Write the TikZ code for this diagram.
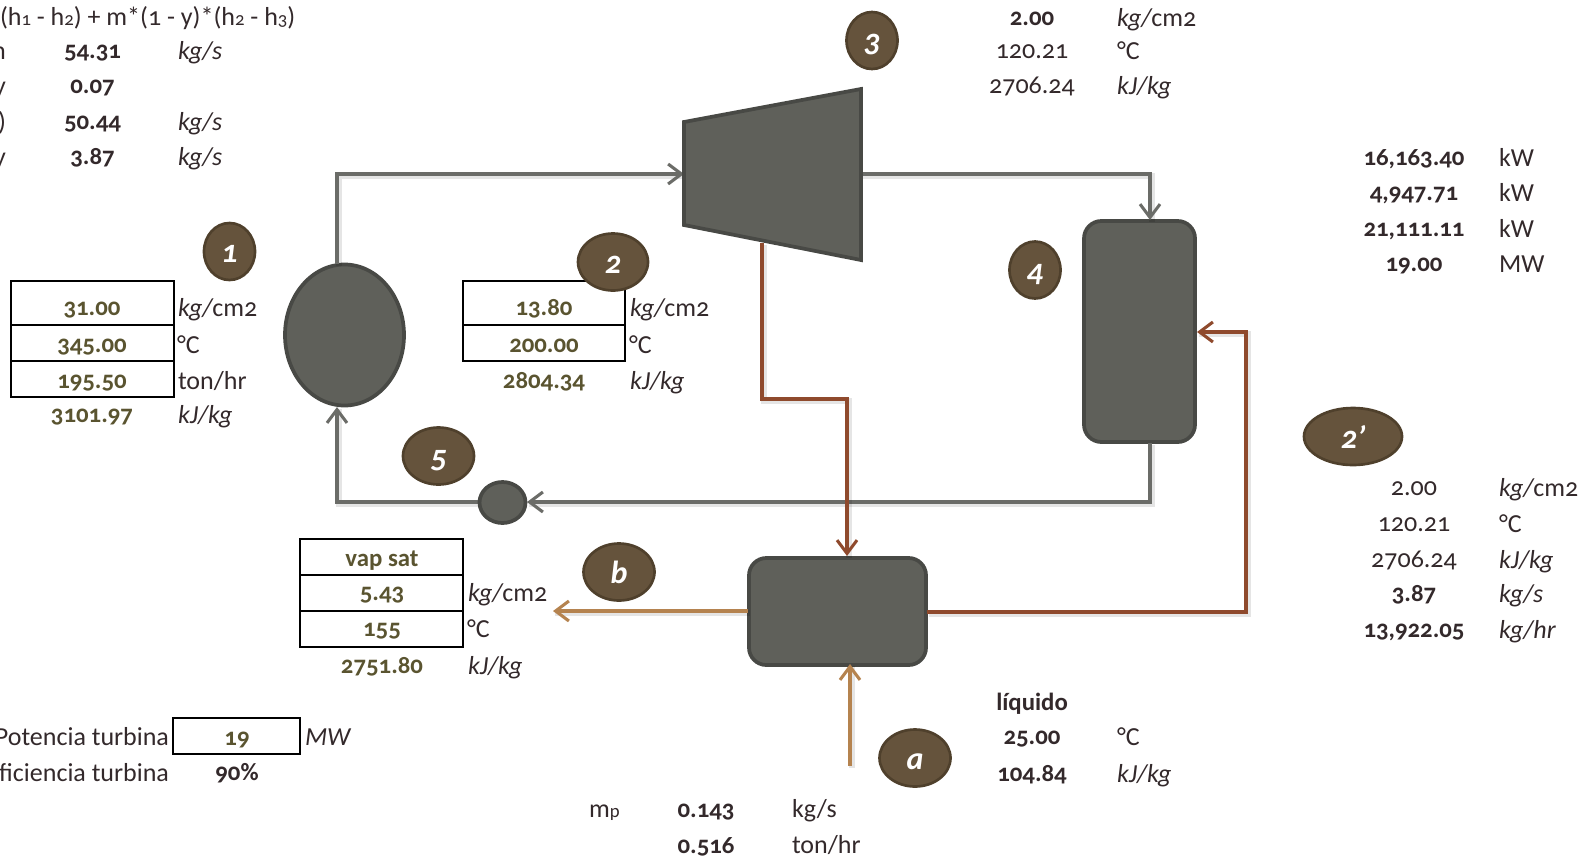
\documentclass[tikz,border=0pt]{standalone}
\usepackage{fontspec}
\setmainfont[Numbers=OldStyle]{Carlito}
\usetikzlibrary{arrows.meta,shapes.geometric,calc}
\definecolor{eqfill}{HTML}{5F605A}
\definecolor{eqline}{HTML}{484945}
\definecolor{pipe}{HTML}{6B6C68}
\definecolor{redpipe}{HTML}{8F4A2D}
\definecolor{tanpipe}{HTML}{B5834F}
\definecolor{badgefill}{HTML}{65533C}
\definecolor{badgeline}{HTML}{4F402C}
\definecolor{olive}{HTML}{5A5430}
\definecolor{ink}{HTML}{33292B}
\newcounter{tx}
\newcommand{\TT}[4][]{\stepcounter{tx}\node[txt,#1] (tx\arabic{tx}) at (#2,#3) {#4};}
\newcommand{\sbs}[1]{\raisebox{-0.03em}{\scalebox{0.72}{#1}}}
\newcommand{\kgcm}{{\itshape kg/}cm2}
\tikzset{
  x=0.75pt,y=-0.75pt,
  txt/.style={anchor=base,inner sep=0pt,outer sep=0pt,font=\fontsize{19.5}{22}\selectfont,text=ink},
  lft/.style={anchor=base west},
  rgt/.style={anchor=base east},
  bd/.style={font=\fontsize{18.6}{22}\selectfont\bfseries},
  ol/.style={font=\fontsize{18.6}{22}\selectfont\bfseries,text=olive},
  equip/.style={draw=eqline,fill=eqfill,line width=2.8pt},
  tank/.style={equip,rectangle,rounded corners=13pt,inner sep=0pt},
  conn/.style={line width=2.7pt,line join=miter,-{Straight Barb[length=10pt,width=15pt,line width=2.3pt]},
     preaction={draw=black,draw opacity=0.10,line width=4pt,transform canvas={shift={(1.5pt,-1.5pt)}},-}},
  badge/.style={ellipse,draw=badgeline,fill=badgefill,line width=2pt,inner sep=0pt,text=white,
     font=\fontsize{24}{26}\selectfont\bfseries\itshape},
  lowtext/.style={text height=20pt,text depth=3pt},
  cell/.style={draw=black,line width=1.5pt},
}
\begin{document}
\begin{tikzpicture}
\useasboundingbox (0,0) rectangle (1587,861);
\clip (0,0) rectangle (1587,861);
% equipment
\node[ellipse,equip,minimum width=119pt*0.75,minimum height=141pt*0.75,inner sep=0pt] (boiler) at (344.5,335) {};
\node[tank,minimum width=111pt*0.75,minimum height=221pt*0.75] (cond) at (1139.5,331.5) {};
\node[tank,minimum width=177pt*0.75,minimum height=107pt*0.75] (dea) at (837.5,611.5) {};
% turbine
\coordinate (tA) at (684,122);
\coordinate (tB) at (861,89);
\coordinate (tC) at (861,260);
\coordinate (tD) at (684,225);
% waypoints
\coordinate (bt) at (337,174);
\coordinate (tin) at (684,174);
\coordinate (tout) at (861,174);
\coordinate (ct) at (1150,174);
\coordinate (cin) at (1150,220);
\coordinate (cb) at (1150,443);
\coordinate (cr) at (1150,502);
\coordinate (pumpR) at (527,502);
\coordinate (pumpL) at (478,502);
\coordinate (bl) at (337,502);
\coordinate (bin) at (337,407);
\coordinate (bout) at (337,264);
\coordinate (ex) at (762,243);
\coordinate (e1) at (762,399);
\coordinate (e2) at (847,399);
\coordinate (e3) at (847,556);
\coordinate (d1) at (927,612);
\coordinate (d2) at (1246,612);
\coordinate (d3) at (1246,332);
\coordinate (c3) at (1197,332);
\coordinate (bo1) at (748,611);
\coordinate (bo2) at (553,611);
\coordinate (w1) at (850,766);
\coordinate (w2) at (850,664);
% connectors
\draw[conn,pipe] (bout) -- (bt) -- (tin);
\draw[conn,pipe] (tout) -- (ct) -- (cin);
\draw[conn,pipe] (cb) -- (cr) -- (pumpR);
\draw[conn,pipe] (pumpL) -- (bl) -- (bin);
\draw[conn,redpipe] (ex) -- (e1) -- (e2) -- (e3);
\draw[conn,redpipe] (d1) -- (d2) -- (d3) -- (c3);
\draw[conn,tanpipe] (bo1) -- (bo2);
\draw[conn,tanpipe] (w1) -- (w2);
\draw[equip,line join=miter] (tA) -- (tB) -- (tC) -- (tD) -- cycle;
\node[ellipse,equip,minimum width=46pt*0.75,minimum height=41pt*0.75,inner sep=0pt] (pump) at (502.5,502.5) {};
% tables
\draw[cell] (11,281) rectangle (174,325);
\draw[cell] (11,325) rectangle (174,361);
\draw[cell] (11,361) rectangle (174,397);
\draw[cell] (463,281) rectangle (625,325);
\draw[cell] (463,325) rectangle (625,361);
\draw[cell] (300,539) rectangle (463,575);
\draw[cell] (300,575) rectangle (463,611);
\draw[cell] (300,611) rectangle (463,647);
\draw[cell] (173,718) rectangle (300,754);
% badges
\node[badge,lowtext,minimum width=51pt*0.75,minimum height=57pt*0.75] (b1) at (229.5,251.5) {1};
\node[badge,lowtext,minimum width=70pt*0.75,minimum height=57pt*0.75] (b2) at (613,262) {2};
\node[badge,lowtext,minimum width=51pt*0.75,minimum height=57pt*0.75] (b3) at (872,40.5) {3};
\node[badge,lowtext,minimum width=51pt*0.75,minimum height=57pt*0.75] (b4) at (1035,270) {4};
\node[badge,lowtext,minimum width=71pt*0.75,minimum height=57pt*0.75] (b5) at (438.5,456) {5};
\node[badge,minimum width=71pt*0.75,minimum height=57pt*0.75] (bb) at (619,572) {b};
\node[badge,lowtext,minimum width=71pt*0.75,minimum height=57pt*0.75] (ba) at (915,758) {a};
\node[badge,minimum width=98pt*0.75,minimum height=57pt*0.75] (bp) at (1353,436.5) {2{\char"27}};
% top-left block
\TT[lft]{0}{25}{(h\sbs{1} - h\sbs{2}) + m*(1 - y)*(h\sbs{2} - h\sbs{3})}
\TT[rgt]{6}{59}{m}
\TT[rgt]{6}{94}{y}
\TT[rgt]{6}{130}{)}
\TT[rgt]{6}{165}{y}
\TT[bd]{92.5}{58}{54.31}
\TT[bd]{92.5}{93}{0.07}
\TT[bd]{92.5}{129}{50.44}
\TT[bd]{92.5}{164}{3.87}
\TT[lft]{178}{59}{\itshape kg/s}
\TT[lft]{178}{130}{\itshape kg/s}
\TT[lft]{178}{165}{\itshape kg/s}
% state 1
\TT[ol]{92}{315}{31.00}
\TT[ol]{92}{352}{345.00}
\TT[ol]{92}{388}{195.50}
\TT[ol]{92}{422}{3101.97}
\TT[lft]{178}{316}{\kgcm}
\TT[lft]{177}{353}{°C}
\TT[lft]{178}{389}{ton/hr}
\TT[lft]{178}{423}{\itshape kJ/kg}
% state 2
\TT[ol]{544}{315}{13.80}
\TT[ol]{544}{352}{200.00}
\TT[ol]{544}{388}{2804.34}
\TT[lft]{630}{316}{\kgcm}
\TT[lft]{629}{353}{°C}
\TT[lft]{630}{389}{\itshape kJ/kg}
% state 3
\TT[bd]{1032}{25}{2.00}
\TT{1032}{58}{120.21}
\TT{1032}{93}{2706.24}
\TT[lft]{1117}{26}{\kgcm}
\TT[lft]{1117}{59}{°C}
\TT[lft]{1117}{94}{\itshape kJ/kg}
% powers
\TT[bd]{1414}{165}{16,163.40}
\TT[bd]{1414}{200}{4,947.71}
\TT[bd]{1414}{236}{21,111.11}
\TT[bd]{1414}{271}{19.00}
\TT[lft]{1499}{166}{kW}
\TT[lft]{1499}{201}{kW}
\TT[lft]{1499}{237}{kW}
\TT[lft]{1499}{272}{MW}
% state 2'
\TT{1414}{495}{2.00}
\TT{1414}{531}{120.21}
\TT{1414}{567}{2706.24}
\TT[bd]{1414}{601}{3.87}
\TT[bd]{1414}{637}{13,922.05}
\TT[lft]{1499}{496}{\kgcm}
\TT[lft]{1499}{532}{°C}
\TT[lft]{1499}{568}{\itshape kJ/kg}
\TT[lft]{1499}{602}{\itshape kg/s}
\TT[lft]{1499}{638}{\itshape kg/hr}
% state b
\TT[ol]{382}{566}{vap sat}
\TT[ol]{382}{600}{5.43}
\TT[ol]{382}{636}{155}
\TT[ol]{382}{673}{2751.80}
\TT[lft]{468}{601}{\kgcm}
\TT[lft]{467}{637}{°C}
\TT[lft]{468}{674}{\itshape kJ/kg}
% state a
\TT[bd]{1032}{710}{líquido}
\TT[bd]{1032}{744}{25.00}
\TT[bd]{1032}{781}{104.84}
\TT[lft]{1117}{745}{°C}
\TT[lft]{1117}{782}{\itshape kJ/kg}
% mp
\TT[lft]{589}{817}{m\sbs{p}}
\TT[bd]{706}{817}{0.143}
\TT[bd]{706}{853}{0.516}
\TT[lft]{792}{817}{kg/s}
\TT[lft]{792}{853}{ton/hr}
% turbine inputs
\TT[rgt]{169}{745}{Potencia turbina}
\TT[rgt]{169}{781}{Eficiencia turbina}
\TT[ol]{237}{745}{19}
\TT[bd]{237}{780}{90\%}
\TT[lft]{305}{745}{\itshape MW}
\end{tikzpicture}
\end{document}
